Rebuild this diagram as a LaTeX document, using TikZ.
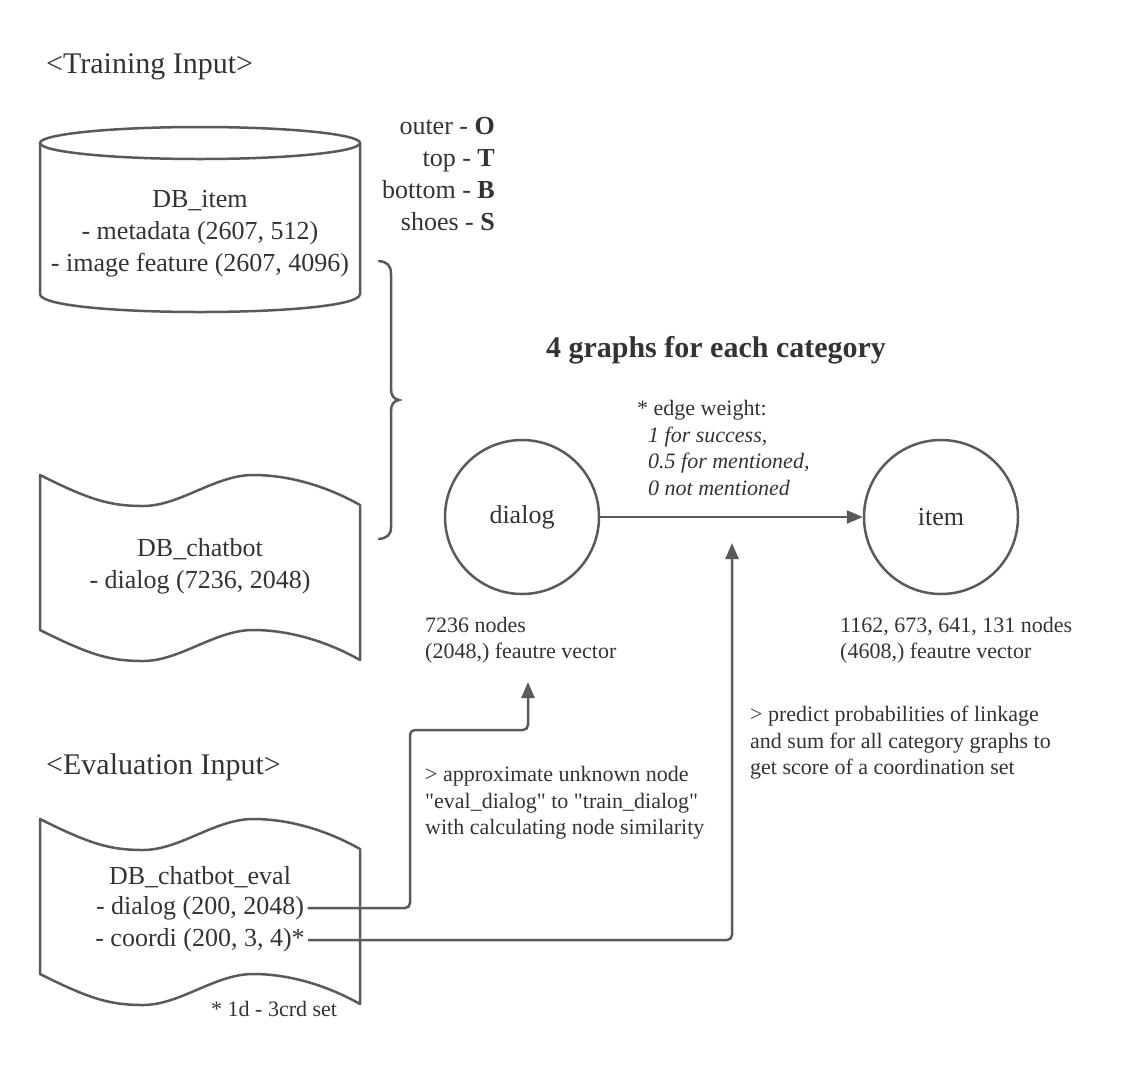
\documentclass[tikz,border=0pt]{standalone}
\usepackage{fontspec}
\setmainfont{Liberation Serif}
\newfontfamily\rawserif{Liberation Serif}[Ligatures=TeXOff]
\usetikzlibrary{arrows.meta}
\definecolor{ln}{HTML}{5A5A5A}
\definecolor{tx}{HTML}{333333}
\newcommand{\sq}{{\rawserif\symbol{34}}}
\begin{document}
\begin{tikzpicture}[x=1pt,y=-1pt,
  shapeline/.style={draw=ln, line width=2.5pt, line join=round},
  conn/.style={draw=ln, line width=2.5pt, rounded corners=5pt},
  arr/.style={conn, -{Triangle[length=16pt,width=13pt]}},
  title/.style={font=\fontsize{30}{36}\selectfont, text=tx, inner sep=0pt, anchor=west},
  big/.style={font=\fontsize{26}{32}\selectfont, text=tx, align=center},
  small/.style={font=\fontsize{22}{26.5}\selectfont, text=tx, align=left, anchor=west, inner sep=0pt},
  gnode/.style={circle, draw=ln, line width=2.5pt, minimum size=154pt, inner sep=0pt,
     font=\fontsize{26}{32}\selectfont, text=tx},
  docwave/.pic={
    \draw[shapeline] (40,475) .. controls (90,500) and (110,506) .. (143,506)
      .. controls (180,506) and (215,475) .. (253,475)
      .. controls (292,475) and (330,488) .. (360,505)
      -- (360,660)
      .. controls (330,643) and (292,630) .. (253,630)
      .. controls (215,630) and (180,661) .. (143,661)
      .. controls (110,661) and (90,655) .. (40,630) -- cycle;
  }]
\useasboundingbox (0,0) rectangle (1140,1080);

% titles
\node[title] (ttrain) at (46,67) {<Training Input>};
\node[title] (teval) at (46,767) {<Evaluation Input>};

% cylinder DB_item
\draw[shapeline] (40,143) -- (40,294) .. controls (40,318) and (360,318) .. (360,294) -- (360,143);
\draw[shapeline] (200,143) ellipse [x radius=160, y radius=16];
\node[big] (dbitem) at (200,234) {DB\_item\\- metadata (2607, 512)\\- image feature (2607, 4096)};

% legend
\node[big, align=right, anchor=east, inner sep=0pt] (legend) at (495,174)
  {outer - \textbf{O}\\top - \textbf{T}\\bottom - \textbf{B}\\shoes - \textbf{S}};

% brace
\draw[conn, rounded corners=0pt, line cap=round]
  (379,261) .. controls (387,262) and (391,265) .. (391,274)
  -- (391,389) .. controls (391,396) and (394,399) .. (399,400)
  .. controls (394,401) and (391,404) .. (391,411)
  -- (391,527) .. controls (391,535) and (387,538) .. (379,539);

% documents
\pic at (0,0) {docwave};
\pic at (0,344) {docwave};
\node[big] (dbchat) at (200,566) {DB\_chatbot\\- dialog (7236, 2048)};
\node[big] (evname) at (200,877) {DB\_chatbot\_eval};
\node[big] (evd) at (200,908) {- dialog (200, 2048)};
\node[big] (evc) at (200,940) {- coordi (200, 3, 4)*};
\node[small] (foot) at (211,1009) {* 1d - 3crd set};

% graph
\node[font=\bfseries\fontsize{30}{36}\selectfont, text=tx] (gtitle) at (716,350) {4 graphs for each category};
\node[gnode] (dialog) at (522,517) {dialog};
\node[gnode] (item) at (941,517) {item};
\draw[arr] (dialog) -- (item);
\node[small] (ew) at (637,448) {* edge weight:\\
  \hspace*{11pt}\textit{1 for success,}\\
  \hspace*{11pt}\textit{0.5 for mentioned,}\\
  \hspace*{11pt}\textit{0 not mentioned}};
\node[small] (dinfo) at (425,640) {7236 nodes\\(2048,) feautre vector};
\node[small] (iinfo) at (840,640) {1162, 673, 641, 131 nodes\\(4608,) feautre vector};
\node[small] (approx) at (425,803) {> approximate unknown node\\\sq eval\_dialog\sq{} to \sq train\_dialog\sq\\with calculating node similarity};
\node[small] (pred) at (750,743) {> predict probabilities of linkage\\and sum for all category graphs to\\get score of a coordination set};

% connectors
\coordinate (t1) at (528,682);
\coordinate (t2) at (732,543);
\draw[arr] (evd.east) -| (410,730) -| (t1);
\draw[arr] (evc.east) -| (t2);
\end{tikzpicture}
\end{document}
